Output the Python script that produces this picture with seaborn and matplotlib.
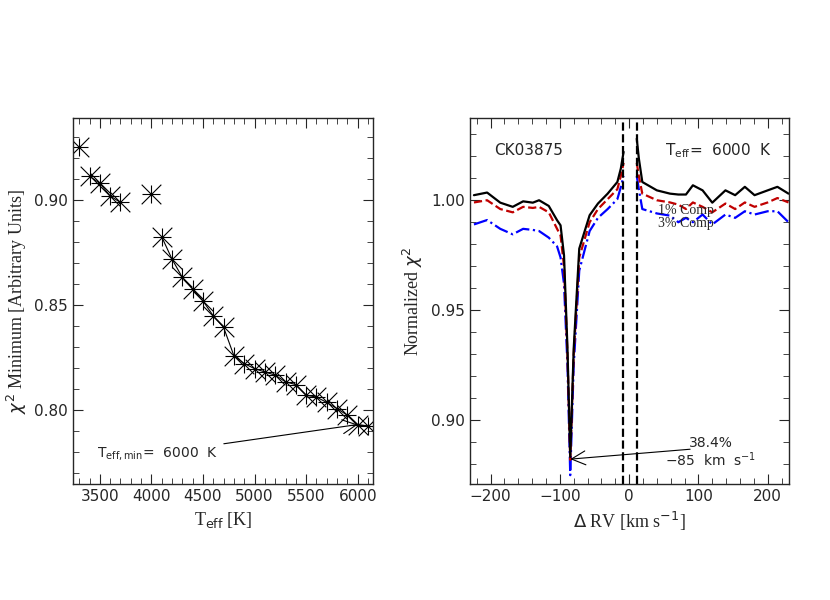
import matplotlib
matplotlib.use("Agg")
import matplotlib.pyplot as plt
from matplotlib.ticker import MultipleLocator
import seaborn as sns
import pandas as pd

sns.set_style("ticks")
plt.rcParams["font.family"] = ["DejaVu Sans"]
plt.rcParams["mathtext.fontset"] = "dejavusans"

# Left panel: chi^2 minimum vs trial Teff
teff = [3300, 3400, 3500, 3600, 3700, 4000, 4100, 4200, 4300, 4400, 4500, 4600,
        4700, 4800, 4900, 5000, 5100, 5200, 5300, 5400, 5500, 5600, 5700, 5800,
        5900, 6000, 6100]
chi2_min = [0.9254, 0.9114, 0.9080, 0.9020, 0.8989, 0.9029, 0.8825, 0.8719,
            0.8632, 0.8576, 0.8520, 0.8449, 0.8394, 0.8259, 0.8222, 0.8198,
            0.8182, 0.8167, 0.8135, 0.8122, 0.8071, 0.8063, 0.8037, 0.8008,
            0.7976, 0.7932, 0.7925]

# Right panel: normalized chi^2 vs RV offset (left and right of the primary gap)
rv_left = [-224, -205, -186, -168, -153, -139, -130, -116, -104, -99, -94, -89,
           -85, -80, -72, -57, -45, -31, -17, -12, -8]
rv_right = [11, 14, 19, 40, 59, 71, 82, 92, 106, 120, 139, 153, 167, 181, 200,
            214, 230]
black_left = [1.0023, 1.0035, 0.9989, 0.9970, 0.9995, 0.9989, 1.0000, 0.9974,
              0.9909, 0.9886, 0.9750, 0.9326, 0.8833, 0.9326, 0.9780, 0.9932,
              0.9985, 1.0030, 1.0083, 1.0144, 1.0220]
black_right = [1.0280, 1.0190, 1.0083, 1.0045, 1.0030, 1.0026, 1.0026, 1.0068,
               1.0045, 0.9989, 1.0045, 1.0023, 1.0061, 1.0023, 1.0045, 1.0061,
               1.0030]
red_left = [0.9990, 1.0000, 0.9960, 0.9945, 0.9970, 0.9965, 0.9970, 0.9945,
            0.9870, 0.9840, 0.9700, 0.9300, 0.8820, 0.9300, 0.9740, 0.9900,
            0.9960, 1.0005, 1.0050, 1.0110, 1.0170]
red_right = [1.0170, 1.0110, 1.0030, 1.0000, 0.9990, 0.9980, 0.9960, 0.9990,
             0.9970, 0.9945, 0.9985, 0.9960, 0.9990, 0.9970, 0.9990, 1.0010,
             0.9990]
blue_left = [0.9890, 0.9910, 0.9870, 0.9845, 0.9870, 0.9865, 0.9860, 0.9830,
             0.9790, 0.9740, 0.9620, 0.9250, 0.8750, 0.9250, 0.9680, 0.9860,
             0.9920, 0.9960, 1.0005, 1.0060, 1.0110]
blue_right = [1.0110, 1.0050, 0.9960, 0.9940, 0.9930, 0.9900, 0.9920, 0.9900,
              0.9935, 0.9890, 0.9935, 0.9920, 0.9950, 0.9935, 0.9950, 0.9950,
              0.9900]
gap_lines = [-9, 11]

fig = plt.figure(figsize=(8.3, 6.0), dpi=100)
ax1 = fig.add_axes([0.088, 0.193, 0.361, 0.61])
ax2 = fig.add_axes([0.566, 0.193, 0.384, 0.61])

df = pd.DataFrame({"teff": teff, "chi2": chi2_min})
# connecting lines (skip the isolated 3300 and 4000 points)
seg1 = df[(df.teff >= 3400) & (df.teff <= 3700)]
seg2 = df[df.teff >= 4100]
for seg in (seg1, seg2):
    sns.lineplot(data=seg, x="teff", y="chi2", ax=ax1, color="black", lw=0.8)
# IDL-style asterisk: plus + cross
sns.scatterplot(data=df, x="teff", y="chi2", ax=ax1, marker="+", s=170,
                color="black", linewidth=0.8)
sns.scatterplot(data=df, x="teff", y="chi2", ax=ax1, marker="x", s=200,
                color="black", linewidth=0.8)
sns.scatterplot(data=df, x="teff", y="chi2", ax=ax1, marker="o", s=6,
                color="black", edgecolor="black", linewidth=0)
ax1.set_xlim(3240, 6145)
ax1.set_ylim(0.7648, 0.939)
ax1.xaxis.set_major_locator(MultipleLocator(500))
ax1.xaxis.set_minor_locator(MultipleLocator(100))
ax1.yaxis.set_major_locator(MultipleLocator(0.05))
ax1.yaxis.set_minor_locator(MultipleLocator(0.01))
ax1.set_xlabel(r"T$_{\rm eff}$ [K]", fontsize=13, family="Liberation Serif")
ax1.set_ylabel(r"$\chi^2$ Minimum [Arbitrary Units]", fontsize=13,
               family="Liberation Serif")
ax1.annotate(r"T$_{\rm eff,min}$=  6000  K", xy=(6000, 0.7932),
             xytext=(3470, 0.7795), va="center", fontsize=10,
             arrowprops=dict(arrowstyle="->", lw=0.8, color="black",
                             mutation_scale=25, shrinkA=2, shrinkB=0))

for left, right, color, ls in [
        (blue_left, blue_right, "blue", "-."),
        (red_left, red_right, "#c00000", "--"),
        (black_left, black_right, "black", "-")]:
    sns.lineplot(x=rv_left, y=left, ax=ax2, color=color, ls=ls, lw=1.6)
    sns.lineplot(x=rv_right, y=right, ax=ax2, color=color, ls=ls, lw=1.6)
for g in gap_lines:
    ax2.axvline(g, color="black", ls="--", lw=1.6)
ax2.set_xlim(-230, 230)
ax2.set_ylim(0.8709, 1.0373)
ax2.xaxis.set_major_locator(MultipleLocator(100))
ax2.xaxis.set_minor_locator(MultipleLocator(20))
ax2.yaxis.set_major_locator(MultipleLocator(0.05))
ax2.yaxis.set_minor_locator(MultipleLocator(0.01))
ax2.set_xlabel(r"$\Delta$ RV [km s$^{-1}$]", fontsize=13, family="Liberation Serif")
ax2.set_ylabel(r"Normalized $\chi^2$", fontsize=13, family="Liberation Serif")
ax2.text(-195, 1.0227, "CK03875", fontsize=11, va="center")
ax2.text(52, 1.0227, r"T$_{\rm eff}$=  6000  K", fontsize=11, va="center")
ax2.text(42, 0.9955, "1% Comp", fontsize=10, family="Liberation Serif", va="center")
ax2.text(42, 0.9893, "3% Comp", fontsize=10, family="Liberation Serif", va="center")
ax2.text(118, 0.8895, "38.4%", fontsize=10, ha="center", va="center")
ax2.text(118, 0.8820, r"$-$85  km  s$^{-1}$", fontsize=10, ha="center", va="center")
ax2.annotate("", xy=(-85, 0.8823), xytext=(88, 0.8868),
             arrowprops=dict(arrowstyle="->", lw=0.8, color="black",
                             mutation_scale=25, shrinkA=0, shrinkB=0))

for ax in (ax1, ax2):
    ax.tick_params(which="both", direction="in", top=True, right=True,
                   labelsize=11)
    ax.tick_params(which="major", length=7)
    ax.tick_params(which="minor", length=4)
    for sp in ax.spines.values():
        sp.set_linewidth(1.0)

fig.savefig("out.png", dpi=100)
